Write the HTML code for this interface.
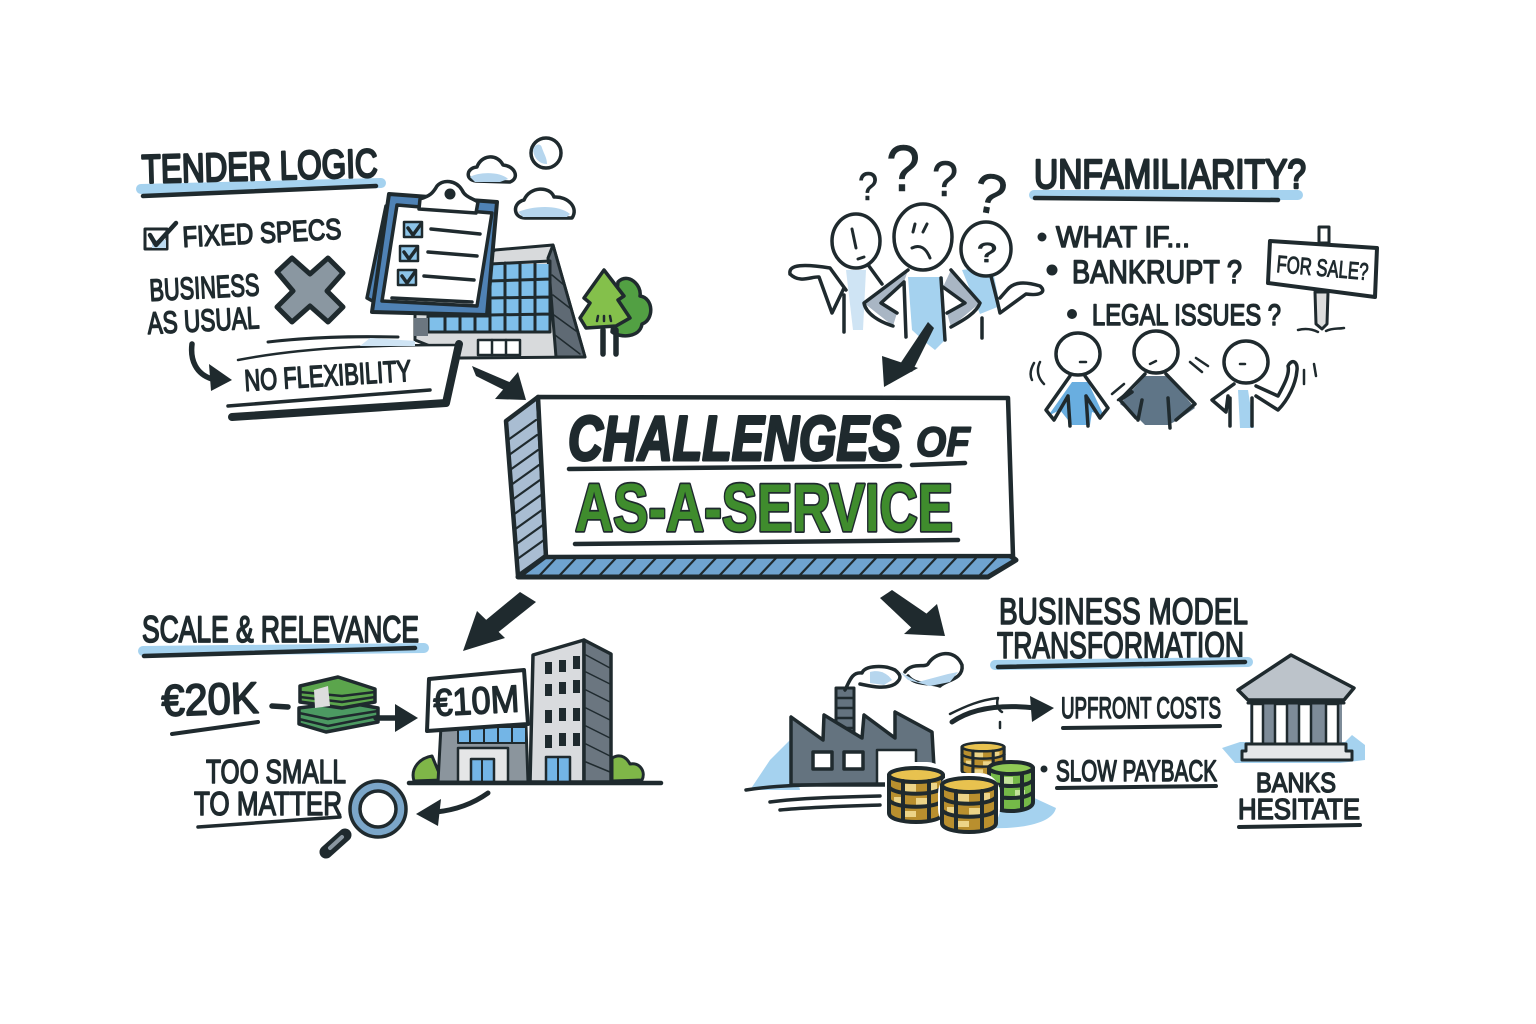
<!DOCTYPE html>
<html><head><meta charset="utf-8"><style>
html,body{margin:0;padding:0;background:#fff}
svg{display:block}
text{font-family:"Liberation Sans",sans-serif;fill:#1f2a2e;stroke:#1f2a2e;stroke-width:1.5;stroke-linejoin:round;paint-order:stroke;font-weight:400}
.k{fill:none;stroke:#1f2a2e;stroke-linecap:round;stroke-linejoin:round}
.o{stroke:#1f2a2e;stroke-linecap:round;stroke-linejoin:round}
.h{fill:none;stroke:#a5d2ef;stroke-linecap:round}
</style></head><body>
<svg width="1536" height="1024" viewBox="0 0 1536 1024" xmlns="http://www.w3.org/2000/svg">
<rect width="1536" height="1024" fill="#fff"/>
<defs>
<g id="stackG"><path class="o" stroke-width="4" fill="#b98f2e" d="M0 8v38c0 12 54 12 54 0V8z"/><path fill="#ecd488" d="M16 17h11v8H16zM38 16h10v8H38zM5 30h9v8H5zM27 31h11v8H27zM16 44h11v6H16z"/><ellipse class="o" stroke-width="4" cx="27" cy="8" rx="27" ry="7" fill="#e8c24f"/><path class="k" stroke-width="4" d="M0 20c5 9 49 9 54 0M0 33c5 9 49 9 54 0M14 14v38M40 14v38"/></g>
<g id="stackV"><path class="o" stroke-width="4" fill="#75b948" d="M0 8v34c0 12 44 12 44 0V8z"/><path fill="#c3e39a" d="M14 17h10v8H14zM4 30h9v7H4zM26 30h10v7H26z"/><ellipse class="o" stroke-width="4" cx="22" cy="8" rx="22" ry="6" fill="#8fca55"/><path class="k" stroke-width="4" d="M0 20c5 8 39 8 44 0M0 32c5 8 39 8 44 0M13 14v34M33 14v34"/></g>
</defs>

<!-- TENDER LOGIC -->
<path class="h" stroke-width="10" d="M141 189L381 183"/>
<path class="k" stroke-width="4.5" d="M143 196L376 186"/>
<text x="142" y="183" font-size="40" textLength="236" lengthAdjust="spacingAndGlyphs" style="stroke-width:2.4" transform="rotate(-1.5 142 183)">TENDER LOGIC</text>
<rect x="145" y="229" width="22" height="20" fill="#fff" class="o" stroke-width="3"/>
<path d="M152 240h14v8h-14z" fill="#bcdcf2"/>
<path class="k" stroke-width="4.5" d="M150 235l6 10 20-22"/>
<text x="183" y="247" font-size="29" textLength="159" lengthAdjust="spacingAndGlyphs" transform="rotate(-3 183 247)">FIXED SPECS</text>
<text x="150" y="301" font-size="31" textLength="110" lengthAdjust="spacingAndGlyphs" transform="rotate(-3 150 301)">BUSINESS</text>
<text x="148" y="334" font-size="31" textLength="112" lengthAdjust="spacingAndGlyphs" transform="rotate(-3 148 334)">AS USUAL</text>
<path class="o" stroke-width="5" fill="#8a97a1" d="M277 272L292 258L310 274L328 258L343 273L327 291L343 307L328 322L310 306L292 322L277 307L293 291z"/>

<!-- building behind clipboard -->
<path class="o" stroke-width="3" fill="#d8dadc" d="M415 312L495 250L553 245L585 357L460 358L415 340z"/>
<path class="o" stroke-width="3" fill="#5f6a74" d="M553 245L585 357L556 357L548 258z"/>
<path class="k" stroke-width="1.5" stroke="#aab" d="M552 275l12 10M553 295l18 14M554 315l22 16M555 335l25 19"/>
<rect x="490" y="264" width="60" height="68" fill="#7fbfea"/>
<rect x="428" y="316" width="65" height="16" fill="#7fbfea"/>
<path class="k" stroke-width="3" d="M490 264L550 261V332H428V316H490zM490 264V332M505 263V332M520 263V332M535 262V332M490 281L550 279M490 298L550 297M490 315L550 314M445 316V332M460 316V332M475 316V332"/>
<rect x="414" y="318" width="14" height="18" fill="#6b7680"/>
<rect x="478" y="340" width="42" height="15" class="o" stroke-width="2.5" fill="#fff"/>
<path class="k" stroke-width="2.5" d="M492 340v15M506 340v15"/>
<path class="o" stroke-width="3.5" fill="#4f82b5" d="M386 206L367 298L378 304z"/>
<path class="o" stroke-width="4" fill="#4f82b5" d="M389 194L497 202L487 315L372 312z"/>
<path class="o" stroke-width="3.5" fill="#fff" d="M397 205L492 213L477 306L382 301z"/>
<path class="o" stroke-width="3.5" fill="#fff" d="M420 199C430 196 433 193 437 186C443 179 456 180 462 190C465 197 472 198 478 202L476 213L419 209z"/>
<circle cx="450" cy="194" r="5.5" fill="#1f2a2e"/>
<g fill="#8cc4e8" class="o" stroke-width="2.5">
<rect x="404" y="222" width="18" height="15"/><rect x="400" y="246" width="18" height="15"/><rect x="398" y="270" width="18" height="15"/></g>
<path class="k" stroke-width="3.5" d="M408 228l5 7 8-11M404 252l5 7 8-11M402 276l5 7 8-11M431 229L480 234M428 252L477 256M424 276L474 280M392 298L472 302"/>

<!-- trees -->
<path class="o" stroke-width="3.5" fill="#52a043" d="M618 282C628 272 642 285 640 296C654 298 654 320 642 324C640 338 620 338 612 332z"/>
<path class="o" stroke-width="3.5" fill="#84c04b" d="M604 270L624 296L618 300L630 318L616 326L586 328L580 318L590 303L584 298z"/>
<path class="k" stroke-width="5.5" d="M603 330V354M616 330V354"/>
<path class="k" stroke-width="2.5" d="M598 316l-1 5M604 316v5M610 316l1 5"/>

<!-- clouds -->
<path class="o" stroke-width="3.5" fill="#fff" d="M476 181C465 180 466 168 477 167C481 155 497 153 503 165C515 166 520 178 510 182z"/>
<path fill="#b6d6ee" d="M470 177c8-5 30-6 38 2l-8 3h-25z"/>
<circle cx="546" cy="153" r="15" fill="#fff" class="o" stroke-width="3.5"/>
<path fill="#b6d6ee" d="M533 150c2-7 8-7 9-2 2 6 5 10 5 16-8 0-13-6-14-14z"/>
<path class="o" stroke-width="3.5" fill="#fff" d="M525 218C513 218 512 203 524 200C530 186 550 186 554 197C568 196 579 208 572 218z"/>
<path fill="#b6d6ee" d="M518 212c14-6 40-8 52 2l-3 3h-44z"/>

<!-- NO FLEXIBILITY -->
<path class="k" stroke-width="3" d="M268 342C310 337 350 336 398 337"/>
<path d="M236 361C300 347 380 345 458 345L446 402L230 413z" fill="#fff"/>
<path class="k" stroke-width="2.5" d="M238 360C310 346 390 345 458 345"/>
<path d="M370 338C388 339 400 340 415 341V346H360z" fill="#cfe4f4"/>
<path class="k" stroke-width="8" stroke-linecap="butt" d="M459 344L446 403L232 417"/>
<path class="k" stroke-width="3.5" d="M228 406L430 390"/>
<text x="245" y="391" font-size="30" textLength="167" lengthAdjust="spacingAndGlyphs" transform="rotate(-3.5 245 391)">NO FLEXIBILITY</text>
<path class="k" stroke-width="5.5" d="M192 344C190 360 196 374 212 379"/>
<path d="M232 380L209 364L211 391z" fill="#1f2a2e"/>
<path d="M472 366L476 376L510 393L514 384z" fill="#1f2a2e"/>
<path d="M526 400L495 399L518 372z" fill="#1f2a2e"/>

<!-- CENTER -->
<path class="o" stroke-width="4.5" fill="#a9bdd2" d="M538 397L506 421L518 576L546 556z"/>
<path class="k" stroke-width="2.2" d="M508 440l28-20M509 455l28-20M510 470l28-20M511 485l28-20M512 500l28-20M513 515l28-20M514 530l28-20M515 545l28-20M516 560l28-20"/>
<path class="o" stroke-width="5" fill="#6fa3cf" d="M546 556L1009 555L1016 560L988 577L518 577z"/>
<path class="k" stroke-width="2.2" d="M540 575l16-17M560 575l16-17M580 575l16-17M600 575l16-17M620 575l16-17M640 575l16-17M660 575l16-17M680 575l16-17M700 575l16-17M720 575l16-17M740 575l16-17M760 575l16-17M780 575l16-17M800 575l16-17M820 575l16-17M840 575l16-17M860 575l16-17M880 575l16-17M900 575l16-17M920 575l16-17M940 575l16-17M960 575l16-17M980 575l16-17"/>
<path class="o" stroke-width="4.5" fill="#fff" d="M538 397L1008 398L1013 556L546 557z"/>
<path class="k" stroke-width="4.5" d="M569 469L900 466M912 465L965 463M575 544L958 540"/>
<text x="568" y="460" font-size="63" textLength="333" lengthAdjust="spacingAndGlyphs" font-style="italic" style="font-weight:700;stroke-width:3">CHALLENGES</text>
<text x="916" y="456" font-size="42" textLength="54" lengthAdjust="spacingAndGlyphs" font-style="italic" style="font-weight:700;stroke-width:1.6">OF</text>
<text x="575" y="531" font-size="68" textLength="378" lengthAdjust="spacingAndGlyphs" style="fill:#3f8c2d;stroke-width:3.5;font-weight:700">AS-A-SERVICE</text>

<!-- UNFAMILIARITY -->
<path class="h" stroke-width="10" d="M1034 195L1298 195"/>
<path class="k" stroke-width="4.5" d="M1035 198L1278 200"/>
<text x="1034" y="188" font-size="41" textLength="272" lengthAdjust="spacingAndGlyphs" style="stroke-width:2.4">UNFAMILIARITY?</text>
<circle cx="1042" cy="237" r="4.5" fill="#1f2a2e"/><circle cx="1052" cy="270" r="5.5" fill="#1f2a2e"/><circle cx="1072" cy="314" r="5" fill="#1f2a2e"/>
<text x="1056" y="247" font-size="30" textLength="134" lengthAdjust="spacingAndGlyphs">WHAT IF...</text>
<text x="1072" y="283" font-size="32" textLength="170" lengthAdjust="spacingAndGlyphs">BANKRUPT ?</text>
<text x="1092" y="325" font-size="30" textLength="189" lengthAdjust="spacingAndGlyphs">LEGAL ISSUES ?</text>
<!-- sign -->
<rect x="1319" y="227" width="10" height="16" class="o" stroke-width="3" fill="#fff"/>
<path class="o" stroke-width="3" fill="#ddd" d="M1315 292h13l-1 32-5 5-6-5z"/>
<path class="k" stroke-width="2.5" d="M1298 330C1306 328 1312 329 1318 332M1326 331C1332 328 1338 329 1344 328"/>
<path class="o" stroke-width="4" fill="#fff" d="M1270 241L1377 248L1375 297L1268 283z"/>
<text x="1276" y="272" font-size="24" textLength="92" lengthAdjust="spacingAndGlyphs" transform="rotate(5 1276 272)" style="stroke-width:1">FOR SALE?</text>
<!-- questions -->
<text x="858" y="200" font-size="40" textLength="20" lengthAdjust="spacingAndGlyphs" style="stroke-width:.6">?</text>
<text x="886" y="191" font-size="66" textLength="34" lengthAdjust="spacingAndGlyphs" style="stroke-width:.6">?</text>
<text x="932" y="196" font-size="50" textLength="26" lengthAdjust="spacingAndGlyphs" style="stroke-width:.6">?</text>
<text x="974" y="213" font-size="56" textLength="32" lengthAdjust="spacingAndGlyphs" style="stroke-width:.6" transform="rotate(10 990 195)">?</text>
<!-- confused group -->
<path d="M846 270h20l-3 60-10 0z" fill="#cfe4f4"/>
<path d="M962 270l30-4 8 40-20 8z" fill="#a5d2ef"/>
<path d="M908 277H943L945 340L935 350L925 342L912 330z" fill="#a5d2ef"/>
<path d="M908 270L864 303L893 326L897 313L881 303L904 282zM951 270L980 303L951 327L947 313L965 303L943 287z" fill="#a9b6c4"/>
<path class="k" stroke-width="3.5" d="M790 274C788 264 805 264 830 268L846 290M790 274C800 284 812 276 819 277L832 313L844 288M844 295V332M866 262L882 284"/>
<path class="k" stroke-width="3.5" d="M908 270L864 303C866 314 880 322 893 326M904 282L881 303L897 313M904 282L906 337M941 278L945 340M951 270L980 303C976 314 960 322 951 327M943 287L965 303L947 313"/>
<path class="k" stroke-width="3.5" d="M990 272C993 285 996 295 1000 313L1026 294C1040 296 1047 292 1040 286C1020 280 1012 284 1007 290L1000 298M982 338V318"/>
<ellipse cx="856" cy="241" rx="24" ry="27" fill="#fff" class="o" stroke-width="3.5"/>
<path class="k" stroke-width="3" d="M852 229L856 248M858 259L864 257"/>
<ellipse cx="986" cy="249" rx="25" ry="27" fill="#fff" class="o" stroke-width="3.5"/>
<text x="977" y="262" font-size="28" textLength="20" lengthAdjust="spacingAndGlyphs" style="stroke-width:.8">?</text>
<ellipse cx="923" cy="237" rx="29" ry="33" fill="#fff" class="o" stroke-width="3.5"/>
<path class="k" stroke-width="3" d="M915 224L913 232M927 224L923 232M912 248C920 244 926 248 930 258"/>
<path d="M928 322L934 328L912 372L900 364z" fill="#1f2a2e"/>
<path d="M884 387L882 356L918 368z" fill="#1f2a2e"/>

<!-- three people -->
<path d="M1072 382H1088L1104 416L1092 412L1090 425H1072L1060 410L1048 416z" fill="#69aee0"/>
<path class="k" stroke-width="3.5" d="M1070 376L1046 410L1054 420L1068 396M1085 376L1108 408L1100 418L1086 396M1068 396L1070 426M1086 396L1088 426"/>
<path d="M1145 376H1168L1195 408L1178 420L1168 425H1145L1135 415L1120 404z" fill="#5f7587"/>
<path class="k" stroke-width="3.5" d="M1145 374L1120 400L1136 418M1166 374L1195 404L1176 420M1142 400L1138 420M1168 398L1170 428M1120 400L1132 392"/>
<path d="M1238 390h10l6 38h-14z" fill="#a5d2ef"/>
<path class="k" stroke-width="3.5" d="M1234 384L1212 400L1226 412L1228 396M1230 398V426M1252 398V426M1256 386L1278 396C1284 385 1290 374 1288 366C1292 358 1298 362 1297 370C1296 384 1288 400 1278 410L1256 396"/>
<ellipse cx="1078" cy="354" rx="22" ry="21" fill="#fff" class="o" stroke-width="3.5"/>
<ellipse cx="1156" cy="352" rx="22" ry="21" fill="#fff" class="o" stroke-width="3.5"/>
<ellipse cx="1246" cy="362" rx="22" ry="21" fill="#fff" class="o" stroke-width="3.5"/>
<path class="k" stroke-width="2.5" d="M1080 362h6M1150 364l6-3M1240 364h5M1034 363C1030 370 1030 376 1032 380M1040 362C1036 370 1038 378 1044 384M1112 394L1124 384M1118 400L1128 392M1190 362L1202 372M1196 358L1208 366M1304 370L1304 384M1314 364L1316 376"/>

<!-- SCALE & RELEVANCE -->
<path class="h" stroke-width="10" d="M143 651L424 648"/>
<path class="k" stroke-width="4.5" d="M144 656L415 648"/>
<text x="142" y="642" font-size="37" textLength="277" lengthAdjust="spacingAndGlyphs" style="stroke-width:1.8">SCALE &amp; RELEVANCE</text>
<text x="162" y="716" font-size="44" textLength="97" lengthAdjust="spacingAndGlyphs" style="stroke-width:1.8" transform="rotate(-2 162 716)">€20K</text>
<path class="k" stroke-width="4" d="M172 734L258 722"/>
<path class="k" stroke-width="5.5" d="M272 706L288 707"/>
<!-- money -->
<path class="o" stroke-width="3.5" fill="#4c9a62" d="M299 708L345 702L378 708V722L326 732L299 724z"/>
<path class="o" stroke-width="3.5" fill="#5ba54c" d="M300 686L338 677L375 689V702L342 708L300 702z"/>
<path class="k" stroke-width="2.5" d="M300 692L342 696L375 692M300 697L342 702L375 697M299 713L328 719L378 711M299 719L328 726L378 716"/>
<path d="M314 690l14-4 2 20-15 2z" fill="#ddd"/>
<path class="k" stroke-width="5.5" d="M376 718L400 718"/>
<path d="M418 718L395 704V732z" fill="#1f2a2e"/>
<!-- buildings -->
<path class="o" stroke-width="3" fill="#7fb648" d="M414 781C410 768 420 758 432 756L442 780zM612 781V758C622 752 628 760 630 764C640 762 646 772 642 780z"/>
<path class="o" stroke-width="3.5" fill="#d9dbde" d="M533 655L584 640V782H530z"/>
<path class="o" stroke-width="3.5" fill="#6b7680" d="M584 640L611 654V782H584z"/>
<path class="k" stroke-width="1.5" d="M586 655L610 668M586 672L610 684M586 690L610 702M586 708L610 720M586 726L610 738M586 744L610 756M586 762L610 772"/>
<g fill="#1f2a2e"><rect x="545" y="662" width="7" height="12"/><rect x="559" y="660" width="7" height="12"/><rect x="573" y="656" width="7" height="13"/><rect x="545" y="684" width="7" height="12"/><rect x="559" y="682" width="7" height="12"/><rect x="573" y="680" width="7" height="13"/><rect x="545" y="710" width="7" height="13"/><rect x="559" y="708" width="7" height="13"/><rect x="573" y="708" width="7" height="13"/><rect x="545" y="735" width="7" height="13"/><rect x="559" y="733" width="7" height="13"/><rect x="573" y="733" width="7" height="13"/></g>
<rect x="546" y="757" width="24" height="25" fill="#73b5e6" class="o" stroke-width="2.5"/>
<path class="k" stroke-width="2" d="M558 757V782"/>
<path class="o" stroke-width="3" fill="#8b959d" d="M441 726H526L528 782H438z"/>
<rect x="458" y="727" width="68" height="16" fill="#73b5e6" class="o" stroke-width="2"/>
<path class="k" stroke-width="2" d="M470 727v16M484 727v16M498 727v16M512 727v16"/>
<path class="o" stroke-width="2.5" fill="#e5e6e7" d="M458 748H508V782H458z"/>
<rect x="471" y="759" width="23" height="23" fill="#73b5e6" class="o" stroke-width="2.5"/>
<path class="k" stroke-width="2" d="M482 759V782"/>
<path class="o" stroke-width="4" fill="#fff" d="M429 679L524 670L528 724L427 731z"/>
<text x="434" y="716" font-size="38" textLength="86" lengthAdjust="spacingAndGlyphs" style="stroke-width:1.5" transform="rotate(-3 434 716)">€10M</text>
<path class="k" stroke-width="4.5" d="M409 783H661"/>
<text x="206" y="783" font-size="33" textLength="140" lengthAdjust="spacingAndGlyphs">TOO SMALL</text>
<text x="194" y="815" font-size="33" textLength="148" lengthAdjust="spacingAndGlyphs">TO MATTER</text>
<path class="k" stroke-width="3.5" d="M198 827L340 817"/>
<!-- magnifier -->
<path class="k" stroke-width="13" d="M345 835L326 852"/>
<path class="k" stroke-width="4" stroke="#8a97a1" style="stroke:#8a97a1" d="M342 837L330 848"/>
<circle cx="378" cy="809" r="23" fill="#fff" stroke="#7ba6c9" stroke-width="9"/>
<circle cx="378" cy="809" r="28" fill="none" stroke="#1f2a2e" stroke-width="3.5"/>
<circle cx="378" cy="809" r="18" fill="none" stroke="#1f2a2e" stroke-width="3.5"/>
<path class="k" stroke-width="5" d="M488 793C474 803 456 810 436 812"/>
<path d="M416 814L441 799L438 826z" fill="#1f2a2e"/>
<path d="M520 592L536 602L496 634L486 620z" fill="#1f2a2e"/>
<path d="M463 651L477 611L505 638z" fill="#1f2a2e"/>

<!-- BUSINESS MODEL -->
<path d="M880 598L892 590L930 616L918 634z" fill="#1f2a2e"/>
<path d="M945 636L904 634L937 604z" fill="#1f2a2e"/>
<text x="999" y="624" font-size="37" textLength="249" lengthAdjust="spacingAndGlyphs" style="stroke-width:1.6">BUSINESS MODEL</text>
<text x="997" y="658" font-size="37" textLength="247" lengthAdjust="spacingAndGlyphs" style="stroke-width:1.6">TRANSFORMATION</text>
<path class="h" stroke-width="10" d="M995 665L1248 662"/>
<path class="k" stroke-width="4.5" d="M998 667L1245 662"/>
<!-- factory -->
<path d="M770 760L790 740L800 790H750zM930 770L950 780L940 795H925z" fill="#a5d2ef"/>
<path d="M935 798C960 800 990 800 1030 796L1056 808C1052 826 1010 832 960 826L940 815z" fill="#a5d2ef"/>
<path class="o" stroke-width="3" fill="#64737f" d="M836 688H854V735H836z"/>
<path class="k" stroke-width="2.5" d="M837 698H853M837 708H853M837 718H853M837 728H853"/>
<path class="o" stroke-width="3.5" fill="#64737f" d="M791 717V785H935L932 732L895 712L895 738L864 715L862 738L824 715L823 740z"/>
<rect x="813" y="752" width="19" height="17" fill="#fff" class="o" stroke-width="3.5"/>
<rect x="844" y="752" width="19" height="17" fill="#fff" class="o" stroke-width="3.5"/>
<path class="o" stroke-width="2.5" fill="#fff" d="M877 785V750H916V785z"/>
<path class="k" stroke-width="3.5" d="M746 790C770 786 800 784 890 784M770 802C800 798 840 797 880 796M780 810C810 807 850 806 880 805"/>
<path class="k" stroke-width="3.5" d="M845 690C850 680 852 672 862 673C865 665 885 665 895 670C900 674 903 678 895 684C885 690 870 686 860 684"/>
<path d="M870 672c10-3 18 2 22 8l-8 5-14-2z" fill="#b6d6ee"/>
<path class="k" stroke-width="3.5" d="M905 672C912 662 925 668 928 664C935 652 955 648 962 665C964 680 945 680 940 686C930 682 915 686 908 676"/>
<path d="M900 672l18 10 30-8 10-2-8 10-20 4-22-6z" fill="#b6d6ee"/>
<use href="#stackG" transform="translate(962 742) scale(.78 .62)"/>
<use href="#stackV" x="989" y="760"/>
<rect x="885" y="762" width="62" height="64" rx="20" fill="#fff"/>
<use href="#stackG" x="889" y="767"/>
<rect x="938" y="773" width="62" height="56" rx="20" fill="#fff"/>
<use href="#stackG" x="942" y="777"/>
<!-- upfront -->
<path class="k" stroke-width="5" d="M952 722C972 708 1000 704 1036 708"/>
<path class="k" stroke-width="2.5" d="M950 714C966 706 980 700 998 698C996 704 998 710 1002 712M1000 722V728"/>
<path d="M1054 708L1030 696L1032 722z" fill="#1f2a2e"/>
<text x="1061" y="718" font-size="30" textLength="160" lengthAdjust="spacingAndGlyphs">UPFRONT COSTS</text>
<path class="k" stroke-width="4" d="M1063 728L1220 726"/>
<circle cx="1044" cy="769" r="3.5" fill="#1f2a2e"/>
<text x="1056" y="781" font-size="30" textLength="161" lengthAdjust="spacingAndGlyphs">SLOW PAYBACK</text>
<path class="k" stroke-width="4" d="M1057 788L1216 786"/>
<!-- bank -->
<path d="M1222 748L1240 742H1345L1352 735L1365 745V760L1340 763H1235z" fill="#a5d2ef"/>
<rect x="1250" y="702" width="92" height="42" fill="#7d8b98"/>
<path class="o" stroke-width="3.5" fill="#bcc3ca" d="M1238 690L1291 655L1354 688L1344 700H1248z"/>
<g fill="#fff" class="o" stroke-width="2.5"><rect x="1252" y="704" width="11" height="40"/><rect x="1275" y="704" width="12" height="40"/><rect x="1299" y="704" width="12" height="40"/><rect x="1326" y="704" width="12" height="40"/></g>
<path class="k" stroke-width="3" d="M1248 703H1344"/>
<path class="o" stroke-width="3" fill="#e4e6e8" d="M1246 744H1346V751H1352V760H1242V751H1246z"/>
<text x="1256" y="792" font-size="28" textLength="80" lengthAdjust="spacingAndGlyphs">BANKS</text>
<text x="1238" y="819" font-size="29" textLength="122" lengthAdjust="spacingAndGlyphs">HESITATE</text>
<path class="k" stroke-width="4" d="M1239 827L1360 825"/>
</svg>
</body></html>
